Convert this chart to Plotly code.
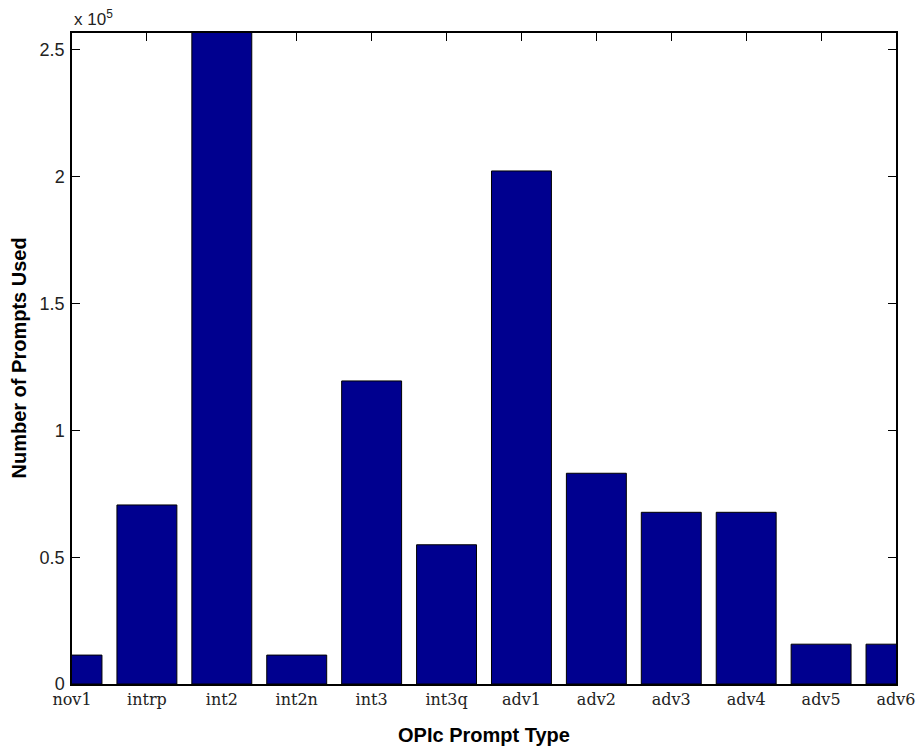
import plotly.graph_objects as go

categories = ["nov1", "intrp", "int2", "int2n", "int3", "int3q",
              "adv1", "adv2", "adv3", "adv4", "adv5", "adv6"]
values = [11400, 70600, 262000, 11400, 119500, 54900,
          202300, 83100, 67700, 67700, 15700, 15700]
y_tickvals = [0, 50000, 100000, 150000, 200000, 250000]
y_ticktext = ["0", "0.5", "1", "1.5", "2", "2.5"]
positions = list(range(1, len(categories) + 1))

sans = "Liberation Sans, Arial, sans-serif"
serif = "DejaVu Serif, Liberation Serif, serif"

fig = go.Figure()
fig.add_trace(go.Bar(
    x=positions, y=values, width=0.8,
    marker=dict(color="#00008F", line=dict(color="black", width=1)),
    showlegend=False,
))

fig.update_layout(
    width=916, height=754,
    margin=dict(l=72, r=20, t=33, b=70),
    paper_bgcolor="white", plot_bgcolor="white",
    xaxis=dict(
        range=[1, 12], tickvals=positions, ticktext=categories,
        ticks="inside", ticklen=8, tickcolor="black", mirror="ticks",
        showline=True, linecolor="black", linewidth=1.5, showgrid=False,
        zeroline=False, layer="below traces", automargin=False,
        tickfont=dict(family=serif, size=16, color="#222"),
    ),
    yaxis=dict(
        range=[0, 256700], tickvals=y_tickvals, ticktext=y_ticktext,
        ticks="inside", ticklen=8, tickcolor="black", mirror="ticks",
        showline=True, linecolor="black", linewidth=1.5, showgrid=False,
        zeroline=False, layer="below traces", automargin=False,
        ticklabelstandoff=2,
        tickfont=dict(family=sans, size=18, color="#222"),
    ),
    annotations=[
        dict(text="x 10<sup>5</sup>", xref="paper", yref="paper", x=0, y=1,
             xanchor="left", yanchor="bottom", yshift=2, showarrow=False,
             font=dict(family=sans, size=17, color="#222")),
        dict(text="<b>OPIc Prompt Type</b>", xref="paper", yref="paper",
             x=0.5, y=0, yshift=-51, xanchor="center", yanchor="middle",
             showarrow=False, font=dict(family=sans, size=20, color="black")),
        dict(text="<b>Number of Prompts Used</b>", xref="paper", yref="paper",
             x=0, y=0.5, xshift=-54, xanchor="center", yanchor="middle",
             textangle=-90, showarrow=False,
             font=dict(family=sans, size=20, color="black")),
    ],
)

fig.write_html("out.html")
